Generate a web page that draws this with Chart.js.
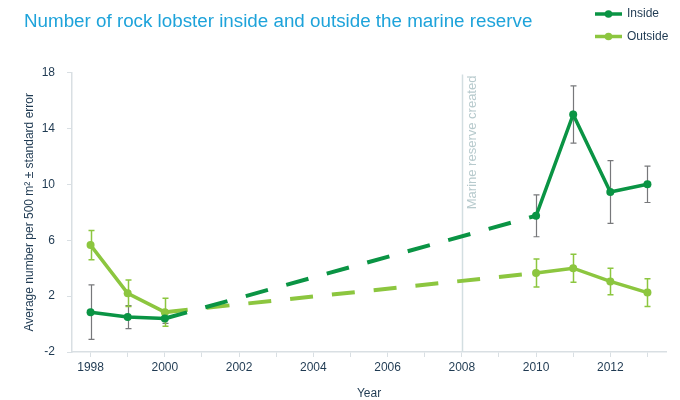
<!DOCTYPE html>
<html>
<head>
<meta charset="utf-8">
<script src="https://cdn.jsdelivr.net/npm/chart.js@4.4.0/dist/chart.umd.min.js"></script>
<style>
  html, body { margin: 0; padding: 0; background: #fff; }
  #wrap { width: 680px; height: 400px; }
</style>
</head>
<body>
<div id="wrap"><canvas id="grafica"></canvas></div>
<script>
// survey years (gap 2001-2009 is bridged with a dashed line)
var years = [1998, 1999, 2000, 2010, 2011, 2012, 2013];
var insideMean = [0.85, 0.5, 0.4, 7.75, 15.0, 9.45, 10.0];
var insideErr = [1.95, 0.82, 0.35, 1.5, 2.05, 2.25, 1.3];
var outsideMean = [5.65, 2.2, 0.85, 3.65, 4.0, 3.05, 2.25];
var outsideErr = [1.05, 0.95, 1.0, 1.0, 1.0, 0.95, 1.0];
var xTickLabels = [1998, 2000, 2002, 2004, 2006, 2008, 2010, 2012];
var reserveYear = 2008;
var reserveLabel = "Marine reserve created";

var verdeOscuro = "#0a9444";
var verdeClaro = "#8cc63f";
var textoEje = "#1f3a52";
var lineaEje = "#d9dfe3";
var fuente = "'Liberation Sans', Arial, sans-serif";

function puntos(medias) {
  var res = [];
  for (var i = 0; i < years.length; i++) res.push({x: years[i], y: medias[i]});
  return res;
}

// dashed where there are no surveys between two points
var tramoDiscontinuo = {
  borderDash: function(ctx) { return (ctx.p1.parsed.x - ctx.p0.parsed.x > 1) ? [23, 19] : undefined; },
  borderWidth: function(ctx) { return (ctx.p1.parsed.x - ctx.p0.parsed.x > 1) ? 4 : undefined; }
};

var barrasError = {
  id: 'barrasError',
  beforeDatasetsDraw: function(chart) {
    var ctx = chart.ctx;
    var area = chart.chartArea;
    var xs = chart.scales.x, ys = chart.scales.y;

    // reserve line + label
    var lx = Math.round(xs.getPixelForValue(reserveYear)) + 0.5;
    ctx.save();
    ctx.strokeStyle = "#d3dee1";
    ctx.lineWidth = 1.5;
    ctx.beginPath();
    ctx.moveTo(lx, area.top + 2);
    ctx.lineTo(lx, area.bottom);
    ctx.stroke();
    ctx.translate(lx + 10, area.top + 3);
    ctx.rotate(-Math.PI / 2);
    ctx.fillStyle = "#b7cacd";
    ctx.font = "13px " + fuente;
    ctx.textAlign = "right";
    ctx.textBaseline = "middle";
    ctx.fillText(reserveLabel, 0, 0);
    ctx.restore();

    // error bars
    chart.data.datasets.forEach(function(ds, i) {
      var meta = chart.getDatasetMeta(i);
      ctx.save();
      ctx.strokeStyle = ds.errColor;
      ctx.lineWidth = ds.errWidth;
      meta.data.forEach(function(p, j) {
        var m = ds.data[j].y, e = ds.errores[j];
        var yt = ys.getPixelForValue(m + e);
        var yb = ys.getPixelForValue(m - e);
        var x = Math.round(p.x) + 0.5;
        ctx.beginPath();
        ctx.moveTo(x, yt); ctx.lineTo(x, yb);
        ctx.moveTo(x - 3, yt); ctx.lineTo(x + 3, yt);
        ctx.moveTo(x - 3, yb); ctx.lineTo(x + 3, yb);
        ctx.stroke();
      });
      ctx.restore();
    });
  },
  afterDraw: function(chart) {
    // legend stacked at top right
    var ctx = chart.ctx;
    ctx.save();
    chart.data.datasets.forEach(function(ds, i) {
      var y = 14 + i * 22.5;
      ctx.strokeStyle = ds.borderColor;
      ctx.lineWidth = 3.5;
      ctx.beginPath();
      ctx.moveTo(595, y); ctx.lineTo(622, y);
      ctx.stroke();
      ctx.fillStyle = ds.borderColor;
      ctx.beginPath();
      ctx.arc(608.5, y, 3.8, 0, Math.PI * 2);
      ctx.fill();
      ctx.fillStyle = textoEje;
      ctx.font = "12px " + fuente;
      ctx.textAlign = "left";
      ctx.textBaseline = "middle";
      ctx.fillText(ds.label, 627, y);
    });
    ctx.restore();
  }
};

var grafica = new Chart(document.getElementById("grafica").getContext("2d"), {
  type: 'line',
  data: {
    datasets: [
      {
        label: "Inside",
        data: puntos(insideMean),
        errores: insideErr,
        errColor: "#77787b",
        errWidth: 1.2,
        borderColor: verdeOscuro,
        backgroundColor: verdeOscuro,
        borderWidth: 3.5,
        pointRadius: 4,
        pointBorderWidth: 0,
        pointHoverRadius: 4,
        segment: tramoDiscontinuo
      },
      {
        label: "Outside",
        data: puntos(outsideMean),
        errores: outsideErr,
        errColor: verdeClaro,
        errWidth: 1.5,
        borderColor: verdeClaro,
        backgroundColor: verdeClaro,
        borderWidth: 3.5,
        pointRadius: 4,
        pointBorderWidth: 0,
        pointHoverRadius: 4,
        segment: tramoDiscontinuo
      }
    ]
  },
  options: {
    responsive: true,
    maintainAspectRatio: false,
    animation: false,
    layout: { padding: { left: 24, right: 14, bottom: 1, top: 0 } },
    plugins: {
      legend: { display: false },
      tooltip: { enabled: false },
      title: {
        display: true,
        text: "Number of rock lobster inside and outside the marine reserve",
        align: 'start',
        color: "#1ea3da",
        font: { family: fuente, size: 18.8, weight: 'normal' },
        padding: { top: 11, bottom: 39 }
      }
    },
    scales: {
      x: {
        type: 'linear',
        min: 1997.5,
        max: 2013.5,
        afterBuildTicks: function(axis) {
          var t = [];
          for (var a = years[0]; a <= years[years.length - 1]; a++) t.push({value: a});
          axis.ticks = t;
        },
        afterFit: function(axis) { axis.height = 47; },
        border: { color: lineaEje, width: 1.5 },
        grid: { drawOnChartArea: false, drawTicks: true, tickLength: 5, color: lineaEje },
        ticks: {
          autoSkip: false,
          maxRotation: 0,
          color: textoEje,
          padding: 3,
          font: { family: fuente, size: 12 },
          callback: function(v) { return xTickLabels.indexOf(Math.round(v)) >= 0 ? String(Math.round(v)) : ''; }
        },
        title: {
          display: true,
          text: "Year",
          color: textoEje,
          font: { family: fuente, size: 12 },
          padding: { top: 8, bottom: -1.5 }
        }
      },
      y: {
        min: -2,
        max: 18,
        afterFit: function(axis) { axis.width = 48; },
        border: { color: lineaEje, width: 1.5 },
        grid: { drawOnChartArea: false, drawTicks: true, tickLength: 5, color: lineaEje },
        ticks: {
          stepSize: 4,
          color: textoEje,
          padding: 12,
          font: { family: fuente, size: 12 }
        },
        title: {
          display: true,
          text: "Average number per 500 m² ± standard error",
          color: textoEje,
          font: { family: fuente, size: 12 },
          padding: { top: -2, bottom: 0 }
        }
      }
    }
  },
  plugins: [barrasError]
});
</script>
</body>
</html>
